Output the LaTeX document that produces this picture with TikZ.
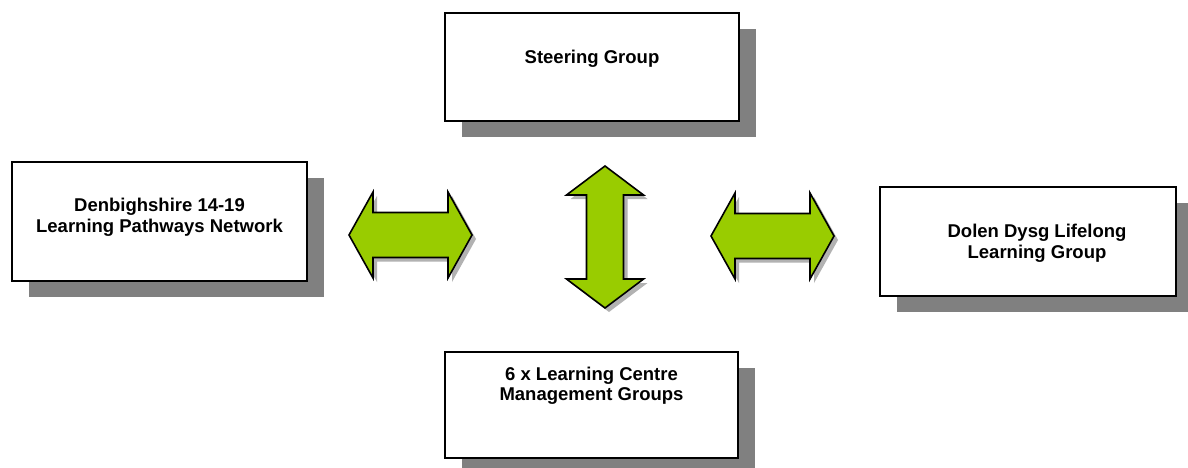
\documentclass[tikz,border=0pt]{standalone}
\usepackage{fontspec}
\setmainfont{Liberation Sans}
\usetikzlibrary{shadows}
\definecolor{arrowgreen}{RGB}{153,204,0}
\tikzstyle{groupbox} = [draw, rectangle, line width=1.6pt, fill=white,
    drop shadow={shadow xshift=17pt, shadow yshift=-16pt, fill=black!50, opacity=1}]
\tikzstyle{boxtext} = [font=\fontsize{18.5}{20.5}\selectfont\bfseries, align=center]
\tikzstyle{greenarrow} = [draw, line width=1.6pt, line join=miter, fill=arrowgreen,
    drop shadow={shadow xshift=4pt, shadow yshift=-4pt, fill=black!30, opacity=1}]

\begin{document}
\begin{tikzpicture}[x=1pt, y=-1pt]
    \path[use as bounding box, fill=white] (0,0) rectangle (1188,468);

    % groups
    \node[groupbox, minimum width=294pt, minimum height=108pt,
        label={[boxtext, yshift=8pt]center:Steering Group}] (steer) at (592,67) {};
    \node[groupbox, minimum width=295pt, minimum height=119pt,
        label={[boxtext, yshift=4pt]center:Denbighshire 14-19\\Learning Pathways Network}] (pathways) at (159.5,221.5) {};
    \node[groupbox, minimum width=296pt, minimum height=109pt,
        label={[boxtext, xshift=9pt, yshift=-2pt]center:Dolen Dysg Lifelong\\Learning Group}] (dolen) at (1028,241.5) {};
    \node[groupbox, minimum width=293pt, minimum height=106pt,
        label={[boxtext, yshift=19pt]center:6 x Learning Centre\\Management Groups}] (centres) at (591.5,405) {};

    % two-way arrows
    \draw[greenarrow, shift={(410.5,235)}] (-61.5,0) -- (-37.5,-43) -- (-37.5,-22.5) -- (37.5,-22.5)
        -- (37.5,-43) -- (61.5,0) -- (37.5,43) -- (37.5,22.5) -- (-37.5,22.5) -- (-37.5,43) -- cycle;
    \draw[greenarrow, shift={(772.5,236)}] (-61.5,0) -- (-37.5,-43) -- (-37.5,-22.5) -- (37.5,-22.5)
        -- (37.5,-43) -- (61.5,0) -- (37.5,43) -- (37.5,22.5) -- (-37.5,22.5) -- (-37.5,43) -- cycle;
    \draw[greenarrow, shift={(605,237)}] (0,-71) -- (38.5,-42) -- (18.5,-42) -- (18.5,42)
        -- (38.5,42) -- (0,71) -- (-38.5,42) -- (-18.5,42) -- (-18.5,-42) -- (-38.5,-42) -- cycle;
\end{tikzpicture}
\end{document}
